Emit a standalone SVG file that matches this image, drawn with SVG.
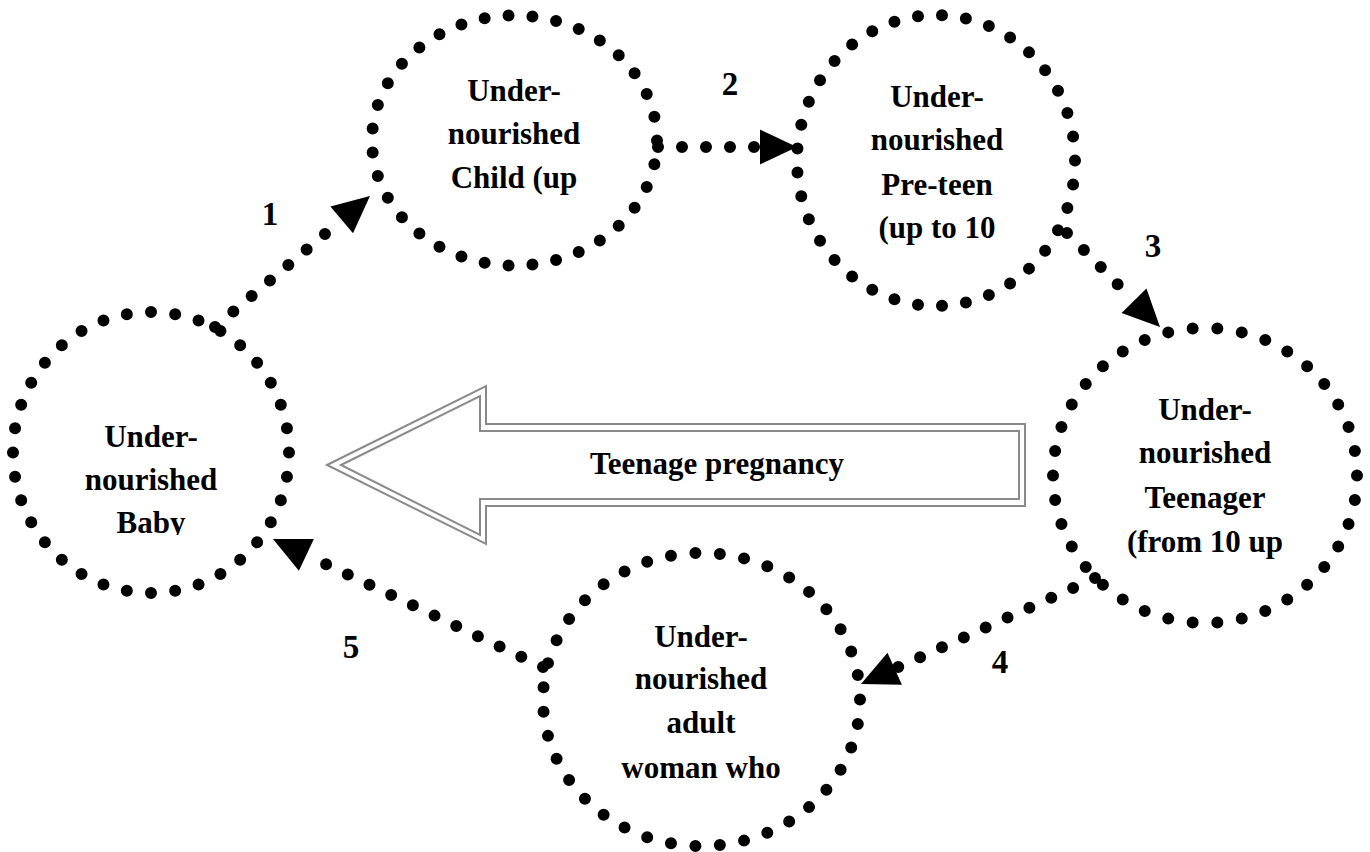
<svg xmlns="http://www.w3.org/2000/svg" width="1370" height="852" viewBox="0 0 1370 852">
  <style>
    .ring { fill: none; stroke: #000; stroke-width: 12; stroke-linecap: round; stroke-dasharray: 0 1; }
    .dots { fill: none; stroke: #000; stroke-width: 12; stroke-linecap: round; stroke-dasharray: 0 24; marker-end: url(#head); }
    .lbl { font-family: "Liberation Serif", "Times New Roman", serif; font-weight: bold; font-size: 31px; fill: #000; text-anchor: middle; }
    .num { font-family: "Liberation Serif", "Times New Roman", serif; font-weight: bold; font-size: 33px; fill: #000; text-anchor: middle; }
    .band { fill: none; stroke: #8a8a8a; stroke-width: 2; stroke-linejoin: miter; }
  </style>
  <defs>
    <marker id="head" markerUnits="userSpaceOnUse" markerWidth="40" markerHeight="38" viewBox="-1 -19 40 38" refX="0" refY="0" orient="auto">
      <path d="M37,0 L0,-17.5 L0,17.5 Z" fill="#000"/>
    </marker>
    <clipPath id="babyClip"><rect x="0" y="300" width="300" height="235"/></clipPath>
  </defs>

  <rect width="1370" height="852" fill="#fff"/>

  <!-- stage nodes -->
  <g id="node-baby">
    <ellipse class="ring" cx="151" cy="452.5" rx="138" ry="140.5" pathLength="36"/>
    <g clip-path="url(#babyClip)">
      <text class="lbl" x="151" y="447">Under-</text>
      <text class="lbl" x="151" y="490">nourished</text>
      <text class="lbl" x="151" y="533">Baby</text>
    </g>
  </g>

  <g id="node-child">
    <ellipse class="ring" cx="514.5" cy="140.5" rx="142.5" ry="125" pathLength="35"/>
    <text class="lbl" x="514" y="101">Under-</text>
    <text class="lbl" x="514" y="144">nourished</text>
    <text class="lbl" x="514" y="188">Child (up</text>
  </g>

  <g id="node-preteen">
    <ellipse class="ring" cx="936" cy="160.5" rx="139" ry="145.5" pathLength="37"/>
    <text class="lbl" x="937" y="107">Under-</text>
    <text class="lbl" x="937" y="150">nourished</text>
    <text class="lbl" x="937" y="195">Pre-teen</text>
    <text class="lbl" x="937" y="238">(up to 10</text>
  </g>

  <g id="node-teenager">
    <ellipse class="ring" cx="1205" cy="475.5" rx="152" ry="147.5" pathLength="38"/>
    <text class="lbl" x="1205" y="420">Under-</text>
    <text class="lbl" x="1205" y="463">nourished</text>
    <text class="lbl" x="1205" y="508">Teenager</text>
    <text class="lbl" x="1205" y="552">(from 10 up</text>
  </g>

  <g id="node-adult">
    <ellipse class="ring" cx="701.5" cy="699.5" rx="158.5" ry="146.5" pathLength="39"/>
    <text class="lbl" x="701" y="647">Under-</text>
    <text class="lbl" x="701" y="689">nourished</text>
    <text class="lbl" x="701" y="733">adult</text>
    <text class="lbl" x="701" y="778">woman who</text>
  </g>

  <!-- hollow arrow: teenage pregnancy leads back to the baby -->
  <g id="node-pregnancy">
    <polygon class="band" points="327,465 486,386 486,424 1025,424 1025,506 486,506 486,544"/>
    <polygon class="band" points="341,465 480,396 480,431 1019,431 1019,499 480,499 480,535"/>
    <text class="lbl" x="717" y="474" font-size="30">Teenage pregnancy</text>
  </g>

  <!-- cycle connectors -->
  <g id="connectors">
    <path class="dots" d="M215,327 L341.7,219.9"/>
    <path class="dots" d="M658,147 L760,147"/>
    <path class="dots" d="M1067,233 L1134,300.7"/>
    <path class="dots" d="M1095,578 L894.7,668.7"/>
    <path class="dots" d="M543,667 L306.4,554.9"/>
  </g>

  <!-- step numbers -->
  <g id="step-numbers">
    <text class="num" x="270" y="225">1</text>
    <text class="num" x="730" y="95">2</text>
    <text class="num" x="1153" y="257">3</text>
    <text class="num" x="1000" y="673">4</text>
    <text class="num" x="351" y="658">5</text>
  </g>
</svg>
